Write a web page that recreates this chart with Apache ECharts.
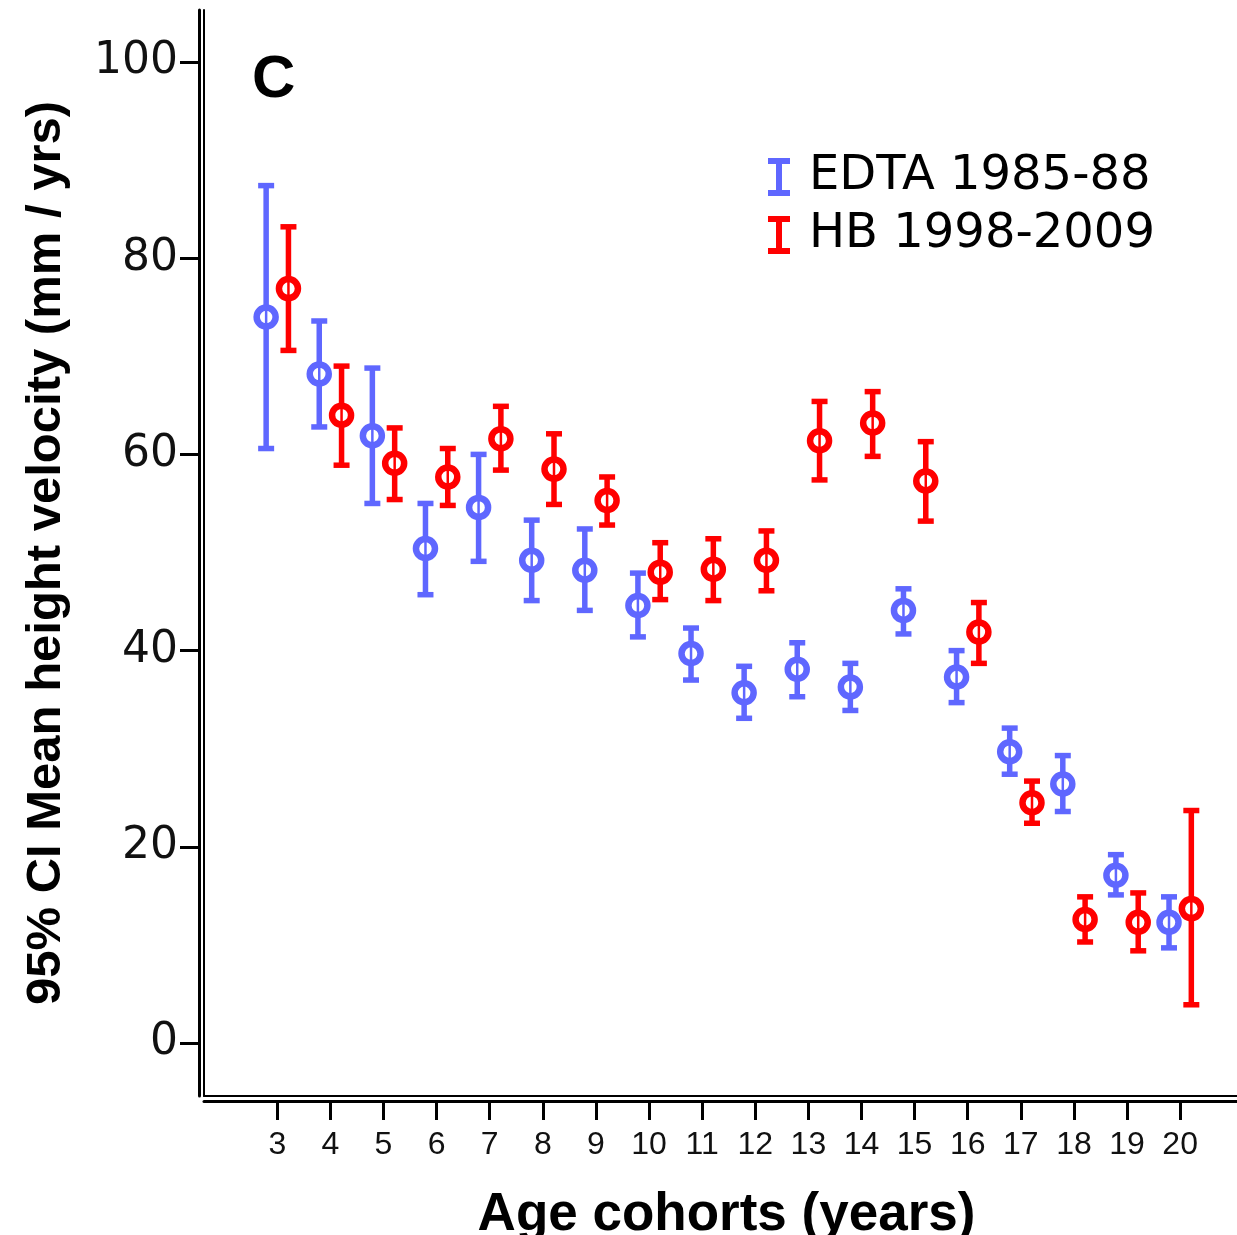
<!DOCTYPE html>
<html>
<head>
<meta charset="utf-8">
<script src="https://cdn.jsdelivr.net/npm/echarts@6/dist/echarts.min.js"></script>
<style>html,body{margin:0;padding:0;background:#fff;}#chart{width:1237px;height:1235px;}</style>
</head>
<body>
<div id="chart"></div>
<script>
// ---- data ----
const ages = [3,4,5,6,7,8,9,10,11,12,13,14,15,16,17,18,19,20];
const xTicks = ages;
const yTicks = [0,20,40,60,80,100];
const edtaMean = [74.0,68.2,61.9,50.4,54.6,49.2,48.2,44.6,39.7,35.7,38.1,36.3,44.1,37.3,29.7,26.4,17.1,12.3];
const edtaLow  = [60.6,62.8,55.0,45.7,49.1,45.1,44.1,41.4,37.0,33.1,35.3,33.9,41.7,34.7,27.4,23.6,15.1,9.7];
const edtaHigh = [87.4,73.6,68.8,55.0,60.0,53.3,52.4,47.9,42.3,38.4,40.8,38.7,46.3,40.0,32.1,29.3,19.2,14.9];
const hbMean = [76.9,64.0,59.1,57.7,61.6,58.5,55.3,48.0,48.3,49.2,61.4,63.2,57.3,41.9,24.5,12.6,12.3,13.7];
const hbLow  = [70.6,58.9,55.4,54.8,58.4,54.9,52.8,45.2,45.1,46.1,57.4,59.8,53.2,38.7,22.4,10.3,9.4,3.9];
const hbHigh = [83.2,69.0,62.7,60.6,64.9,62.1,57.7,51.0,51.4,52.2,65.4,66.4,61.3,44.9,26.7,14.9,15.3,23.7];

const BLUE = '#5f67ff';
const RED = '#ff0000';
const dodge = 0.21;

function build(mean, low, high, off) {
  return ages.map((a, i) => [a + off, low[i], high[i], mean[i]]);
}

function renderErr(params, api) {
  const x = api.value(0);
  const pH = api.coord([x, api.value(2)]);
  const pL = api.coord([x, api.value(1)]);
  const pM = api.coord([x, api.value(3)]);
  const color = api.visual('color');
  const lw = 5.5, cap = 8, r = 9.5;
  return {
    type: 'group',
    children: [
      {type:'line', shape:{x1:pH[0], y1:pH[1], x2:pL[0], y2:pL[1]}, style:{stroke:color, lineWidth:lw}},
      {type:'line', shape:{x1:pH[0]-cap, y1:pH[1], x2:pH[0]+cap, y2:pH[1]}, style:{stroke:color, lineWidth:lw}},
      {type:'line', shape:{x1:pL[0]-cap, y1:pL[1], x2:pL[0]+cap, y2:pL[1]}, style:{stroke:color, lineWidth:lw}},
      {type:'circle', shape:{cx:pM[0], cy:pM[1], r:r}, style:{fill:'#fff', stroke:color, lineWidth:6.5}},
      {type:'line', shape:{x1:pM[0], y1:pM[1]-7, x2:pM[0], y2:pM[1]+7}, style:{stroke:color, lineWidth:2.5}}
    ]
  };
}

const xMin = 1.62, xMax = 21.07, yMin = -5.4, yMax = 105.3;
const iBeam = 'path://M0,0H22V6H14V32H22V38H0V32H8V6H0Z';

const chart = echarts.init(document.getElementById('chart'), null, {renderer:'canvas'});
chart.setOption({
  backgroundColor: '#fff',
  animation: false,
  title: {
    text: 'C', left: 247, top: 45,
    textStyle: {fontSize: 60, fontWeight: 'bold', fontFamily: 'Liberation Sans', color: '#000'}
  },
  legend: {
    orient: 'vertical', left: 763, top: 148,
    itemWidth: 22, itemHeight: 38, itemGap: 10,
    textStyle: {fontSize: 48, fontFamily: 'DejaVu Sans', color: '#000', padding: [6,0,0,14]},
    data: [
      {name: 'EDTA 1985-88', icon: iBeam},
      {name: 'HB 1998-2009', icon: iBeam}
    ]
  },
  grid: {left: 204, right: 0, top: 10, bottom: 139, containLabel: false, outerBoundsMode: 'none'},
  xAxis: [
    {type:'value', min:xMin, max:xMax, position:'bottom',
     axisLine:{show:true, onZero:false, lineStyle:{color:'#000', width:2}},
     axisTick:{show:false}, axisLabel:{show:false}, splitLine:{show:false}},
    {type:'value', min:xMin, max:xMax, position:'bottom', offset:5,
     axisLine:{show:true, onZero:false, lineStyle:{color:'#000', width:3}},
     axisTick:{show:true, length:19, lineStyle:{color:'#000', width:3}, customValues: xTicks},
     axisLabel:{show:true, customValues: xTicks, margin:28, fontSize:32, fontFamily:'Liberation Sans', color:'#111'},
     splitLine:{show:false},
     name:'Age cohorts (years)', nameLocation:'middle', nameGap:88,
     nameTextStyle:{fontSize:53, fontWeight:'bold', fontFamily:'Liberation Sans', color:'#000', padding:[0,0,0,12]}}
  ],
  yAxis: [
    {type:'value', min:yMin, max:yMax, position:'left',
     axisLine:{show:true, onZero:false, lineStyle:{color:'#000', width:2}},
     axisTick:{show:false}, axisLabel:{show:false}, splitLine:{show:false}},
    {type:'value', min:yMin, max:yMax, position:'left', offset:5,
     axisLine:{show:true, onZero:false, lineStyle:{color:'#000', width:3}},
     axisTick:{show:true, length:19, lineStyle:{color:'#000', width:3}, customValues: yTicks},
     axisLabel:{show:true, customValues: yTicks, margin:21, fontSize:44, fontFamily:'DejaVu Sans', color:'#111'},
     splitLine:{show:false},
     name:'95% CI Mean height velocity (mm / yrs)', nameLocation:'middle', nameGap:128, nameRotate:90,
     nameTextStyle:{fontSize:49, fontWeight:'bold', fontFamily:'Liberation Sans', color:'#000'}}
  ],
  series: [
    {name:'EDTA 1985-88', type:'custom', xAxisIndex:0, yAxisIndex:0, clip:false,
     itemStyle:{color:BLUE}, renderItem: renderErr,
     encode:{x:0, y:[1,2,3]}, data: build(edtaMean, edtaLow, edtaHigh, -dodge)},
    {name:'HB 1998-2009', type:'custom', xAxisIndex:0, yAxisIndex:0, clip:false,
     itemStyle:{color:RED}, renderItem: renderErr,
     encode:{x:0, y:[1,2,3]}, data: build(hbMean, hbLow, hbHigh, dodge)}
  ]
});
</script>
</body>
</html>
